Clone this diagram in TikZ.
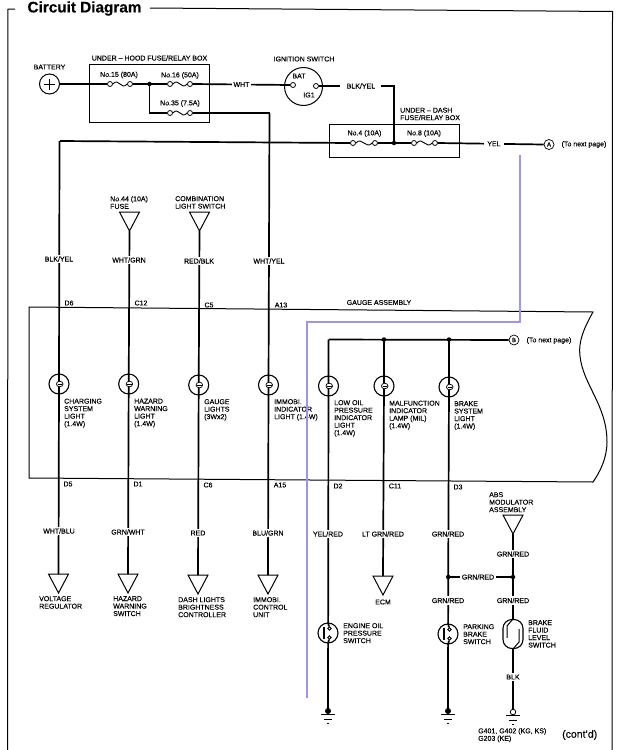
\documentclass[tikz,border=0pt]{standalone}
\usepackage{fontspec}
\setmainfont[FakeBold=0.25]{Liberation Sans}
\usetikzlibrary{calc}
\tikzset{
  wire/.style={line width=1.7pt},
  thinline/.style={line width=1pt},
  lbl/.style={font=\fontsize{7}{7.5}\selectfont,inner sep=0pt,align=left,anchor=north west},
  clbl/.style={font=\fontsize{7}{7.5}\selectfont,inner sep=0pt},
  wirelbl/.style={font=\fontsize{7}{7.5}\selectfont,inner sep=1.5pt,fill=white},
  term/.style={circle,draw,line width=0.8pt,fill=white,minimum size=5pt,inner sep=0pt},
  dot/.style={circle,fill,minimum size=4.5pt,inner sep=0pt},
  ring/.style={circle,draw,line width=1.1pt,minimum size=20pt,inner sep=0pt},
  swring/.style={circle,draw,line width=1.1pt,fill=white,minimum size=20pt,inner sep=0pt},
  letter/.style={circle,draw,line width=0.7pt,minimum size=10pt,inner sep=0pt,font=\fontsize{6}{6}\selectfont}
}
\begin{document}
\begin{tikzpicture}[x=1pt,y=-1pt]
\useasboundingbox (0,0) rectangle (620,750);
% outer frame
\node[font=\fontsize{15.3}{16}\selectfont\bfseries,inner sep=0pt] (title) at (84.5,8.5) {Circuit Diagram};
\draw[thinline] (15,9) -- (8,9) -- (7.5,750);
\draw[thinline] (150,8) -- (612.5,11.5) -- (612,750);
% fuse boxes
\node[thinline,draw,minimum width=120.5pt,minimum height=57.5pt,inner sep=0pt] (hoodbox) at (149.5,93.7) {};
\node[thinline,draw,minimum width=130pt,minimum height=33pt,inner sep=0pt] (dashbox) at (394,140.5) {};
\node[clbl] (hoodlbl) at (149.5,58) {UNDER -- HOOD FUSE/RELAY BOX};
\node[lbl] (dashlbl) at (400,107.5) {UNDER -- DASH\\FUSE/RELAY BOX};
\node[clbl] (lbl15) at (119,75) {No.15 (80A)};
\node[clbl] (lbl16) at (180,75.5) {No.16 (50A)};
\node[clbl] (lbl35) at (180,103.5) {No.35 (7.5A)};
\node[clbl] (lbl4) at (364.5,133.5) {No.4 (10A)};
\node[clbl] (lbl8) at (424,133.5) {No.8 (10A)};
% battery and ignition switch
\node[circle,draw,line width=1pt,minimum size=20pt,inner sep=0pt] (bat) at (49.5,84) {};
\draw[line width=0.6pt] (44,84) -- (55,84) (49.5,78.5) -- (49.5,89.5);
\node[clbl] (batlbl) at (49.5,67) {BATTERY};
\node[circle,draw,line width=1pt,minimum size=38pt,inner sep=0pt] (ign) at (303.5,86.5) {};
\node[clbl] (ignlbl) at (304,59) {IGNITION SWITCH};
\node[clbl] (ignbat) at (299,76) {BAT};
\node[clbl] (igng) at (309,95) {IG1};
% wires with fuses
\foreach \n/\xa/\xb/\y in {fa/110/130/84,fb/170/190/84,fc/170/190/113,fd/353/375/143,fe/414/435/143} {
  \node[term] (\n a) at (\xa,\y) {};
  \node[term] (\n b) at (\xb,\y) {};
  \draw[line width=0.9pt] (\n a.east) .. controls +(6,-7) and +(-6,7) .. (\n b.west);
}
\node[term] (tbat) at (293,85) {};
\node[term] (tig) at (316,86) {};
\coordinate (jhood) at (149.5,84);
\coordinate (c35) at (269.5,113);
\coordinate (cmain) at (60,141);
\coordinate (jdash) at (394,143);
\coordinate (cdash) at (394,86);
\node[letter] (nodea) at (549,144.5) {A};
\node[letter] (nodeb) at (514,340) {B};
\node[clbl] (lblnexta) at (584,144.5) {(To next page)};
\node[clbl] (lblnextb) at (549,340.5) {(To next page)};
\draw[wire] (bat.east) -- (faa.west);
\draw[wire] (fab.east) -- (jhood) -- (fba.west);
\draw[wire] (jhood) |- (fca.west);
\draw[wire] (fbb.east) -- node[wirelbl] {WHT} (tbat.west);
\draw[wire] (fcb.east) -- (c35);
\draw[wire] (tig.east) -- node[wirelbl,pos=0.56,minimum width=41pt] {BLK/YEL} (cdash) -- (jdash);
\draw[wire] (cmain) -- (fda.west);
\draw[wire] (fdb.east) -- (fea.west);
\draw[wire] (feb.east) -- node[wirelbl,pos=0.53,minimum width=20pt] {YEL} (nodea.west);
\node[dot] (dothood) at (jhood) {};
\node[dot] (dotdash) at (jdash) {};
% gauge assembly
\coordinate (gtl) at (29,307);
\coordinate (gtr) at (593,312);
\coordinate (gbl) at (29,478);
\coordinate (gbr) at (593,482);
\draw[thinline] (gbl) -- (gtl) -- (gtr) .. controls (584,328) and (578,342) .. (580,356) .. controls (583,385) and (607,405) .. (607,442) .. controls (607,458) and (600,472) .. (gbr) -- cycle;
\node[clbl] (gaugelbl) at (379,302.5) {GAUGE ASSEMBLY};
% triangles, top and bottom
\foreach \n/\x/\y in {tfuse/129.5/231,tcomb/199.5/231,tvolt/58.5/593,thaz/128/593,tdash/198/594,timm/268/594,tecm/383/595,tabs/513/534} {
  \coordinate (\n) at (\x,\y);
  \coordinate (\n top) at (\x,\y-19);
  \draw[line width=1pt] (\n) -- ++(-10,-19) -- ++(20,0) -- cycle;
}
% lamps
\foreach \n/\x/\y in {la/59/384,lb/128.7/384,lc/198.7/385,ld/268.5/385,le/328.5/386,lf/384/386,lg/449/387} {
  \coordinate (\n) at (\x,\y);
}
\coordinate (wa) at (59.5,141);
\coordinate (wd) at (269.5,113);
\coordinate (we) at (328.5,339.5);
\coordinate (wf) at (384,339.5);
\coordinate (wg) at (449,339.5);
\coordinate (ge) at (328,711);
\coordinate (gg) at (448,711);
\coordinate (gbk) at (513,712);
\coordinate (jpark) at (448.2,577);
\coordinate (jbrake) at (513,577);
\draw[wire] (wa) -- (la) -- (tvolttop);
\draw[wire] (tfuse) -- (lb) -- (thaztop);
\draw[wire] (tcomb) -- (lc) -- (tdashtop);
\draw[wire] (wd) -- (ld) -- (timmtop);
\draw[wire] (we) -- (nodeb.west);
\draw[wire] (we) -- (le) -- (ge);
\draw[wire] (wf) -- (lf) -- (tecmtop);
\draw[wire] (wg) -- (lg) -- (jpark) -- (gg);
\draw[wire] (tabs) -- (jbrake) -- (gbk);
\draw[wire] (jpark) -- (jbrake);
\node[dot] (dotf) at (wf) {};
\node[dot] (dotg) at (wg) {};
\node[dot] (dotpark) at (jpark) {};
\node[dot] (dotbrake) at (jbrake) {};
\foreach \n in {la,lb,lc,ld,le,lf,lg} {
  \node[ring] (\n ring) at (\n) {};
  \draw[line width=0.7pt,fill=white] ([xshift=0.7]\n) ellipse (3.3 and 2.8);
  \draw[line width=0.7pt] ([xshift=-1.5]\n) -- ([xshift=3]\n);
}
% switches
\node[swring] (swoil) at (328,633) {};
\node[swring] (swpark) at (448,634) {};
\foreach \n in {swoil,swpark} {
  \node[term,minimum size=3.6pt] (\n a) at ($(\n)+(1.5,-4.5)$) {};
  \node[term,minimum size=3.6pt] (\n b) at ($(\n)+(1.5,4.5)$) {};
  \draw[wire] (\n.north) -- (\n a);
  \draw[wire] (\n.south) -- (\n b);
  \draw[line width=1.3pt] ($(\n)+(-4,-6)$) -- ($(\n)+(-4,6)$);
}
\node[draw,line width=1.1pt,fill=white,minimum width=20pt,minimum height=29pt,rounded corners=9pt,inner sep=0pt] (swbrake) at (513,634) {};
\draw[line width=1pt] (swbrake.north) -- ++(-6,7) -- ++(0,12);
\draw[line width=1pt] (swbrake.south) -- ++(6,-7) -- ++(0,-13);
% grounds
\foreach \n in {ge,gg,gbk} {
  \draw[line width=0.9pt] ($(\n)+(-7,3.5)$) -- ($(\n)+(7,3.5)$);
  \draw[line width=0.7pt] ($(\n)+(-4,8)$) -- ($(\n)+(4,8)$);
  \draw[line width=0.7pt] ($(\n)+(-1,12.5)$) -- ($(\n)+(1,12.5)$);
}
\node[dot,minimum size=6pt] (gedot) at (ge) {};
\node[dot,minimum size=6pt] (ggdot) at (gg) {};
\node[circle,draw,line width=0.8pt,fill=white,minimum size=5.5pt,inner sep=0pt] (gbkdot) at (gbk) {};
% wire colours
\foreach \x/\y/\t [count=\i] in {59/259/{BLK/YEL},129/260/{WHT/GRN},199/261/{RED/BLK},269/261/{WHT/YEL},59/531/{WHT/BLU},128/532/{GRN/WHT},198/533/{RED},268/533/{BLU/GRN},328/534/{YEL/RED},383/534/{LT GRN/RED},448/534/{GRN/RED},448/600.5/{GRN/RED},513/554/{GRN/RED},513/600.5/{GRN/RED},513/677/{BLK},478/577/{GRN/RED}} {
  \node[wirelbl] (wl\i) at (\x,\y) {\t};
}
% connector pins
\foreach \n/\x/\y in {D6/69/303,C12/141/303,C5/209/305,A13/281/305,D5/68/484,D1/138/484,C6/208/485,A15/280/485,D2/338/486,C11/395/486,D3/458/487} {
  \node[clbl] (pin\n) at (\x,\y) {\n};
}
% component labels
\node[lbl] (lblfuse) at (110,196) {No.44 (10A)\\FUSE};
\node[lbl] (lblcomb) at (175,196) {COMBINATION\\LIGHT SWITCH};
\node[lbl] (lblla) at (64,398.5) {CHARGING\\SYSTEM\\LIGHT\\(1.4W)};
\node[lbl] (lbllb) at (134,398.5) {HAZARD\\WARNING\\LIGHT\\(1.4W)};
\node[lbl] (lbllc) at (204,399) {GAUGE\\LIGHTS\\(3Wx2)};
\node[lbl] (lblld) at (274,399) {IMMOBI.\\INDICATOR\\LIGHT (1.4W)};
\node[lbl] (lblle) at (334,400) {LOW OIL\\PRESSURE\\INDICATOR\\LIGHT\\(1.4W)};
\node[lbl] (lbllf) at (389,400.5) {MALFUNCTION\\INDICATOR\\LAMP (MIL)\\(1.4W)};
\node[lbl] (lbllg) at (454,401) {BRAKE\\SYSTEM\\LIGHT\\(1.4W)};
\node[lbl] (lblvolt) at (39,596) {VOLTAGE\\REGULATOR};
\node[lbl] (lblhaz) at (113,596) {HAZARD\\WARNING\\SWITCH};
\node[lbl] (lbldash) at (178,597) {DASH LIGHTS\\BRIGHTNESS\\CONTROLLER};
\node[lbl] (lblimm) at (253,597) {IMMOBI.\\CONTROL\\UNIT};
\node[clbl] (lblecm) at (383,602) {ECM};
\node[lbl] (lbloil) at (343,623) {ENGINE OIL\\PRESSURE\\SWITCH};
\node[lbl] (lblpark) at (463,624) {PARKING\\BRAKE\\SWITCH};
\node[lbl] (lblfluid) at (528,620) {BRAKE\\FLUID\\LEVEL\\SWITCH};
\node[lbl] (lblabs) at (489,492) {ABS\\MODULATOR\\ASSEMBLY};
\node[lbl] (lblg) at (478,728) {G401, G402 (KG, KS)\\G203 (KE)};
\node[font=\fontsize{10.5}{11}\selectfont,inner sep=0pt,anchor=west] (lblcont) at (562,735) {(cont'd)};
% overdrawn blue line
\coordinate (ba) at (519.5,155);
\coordinate (bb) at (519.5,322);
\coordinate (bc) at (307,322);
\coordinate (bd) at (307,698);
\draw[line width=2pt,color={rgb,255:red,155;green,148;blue,240}] (ba) -- (bb) -- (bc) -- (bd);
\end{tikzpicture}
\end{document}
